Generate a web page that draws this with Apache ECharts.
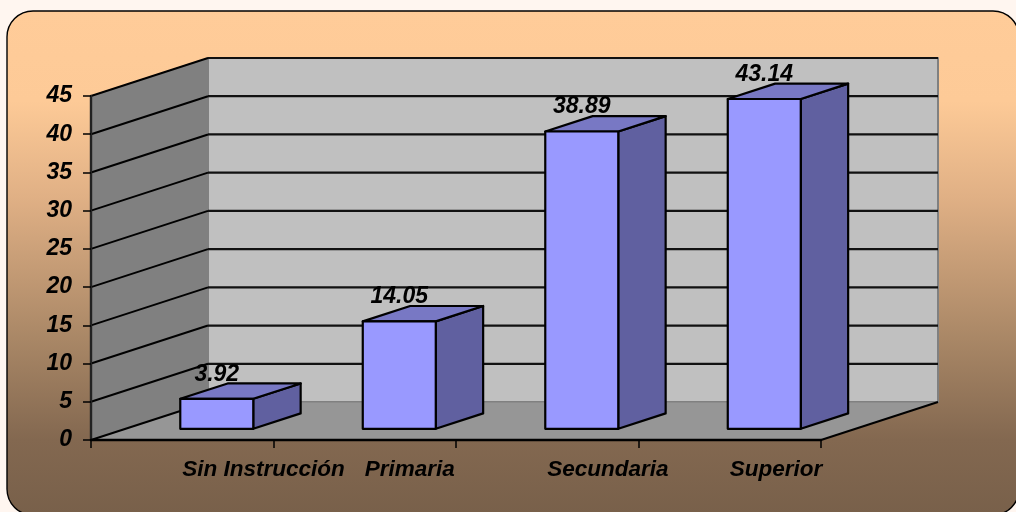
<!DOCTYPE html>
<html>
<head>
<meta charset="utf-8">
<style>
html, body { margin: 0; padding: 0; background: #fff6f0; overflow: hidden; }
#chart { width: 1016px; height: 512px; }
</style>
<script src="https://cdn.jsdelivr.net/npm/echarts@6/dist/echarts.min.js"></script>
</head>
<body>
<div id="chart"></div>
<script>
var categories = ['Sin Instrucción', 'Primaria', 'Secundaria', 'Superior'];
var values = [3.92, 14.05, 38.89, 43.14];
var yTicks = [0, 5, 10, 15, 20, 25, 30, 35, 40, 45];

var font = '"Liberation Sans", Arial, sans-serif';
var depthX = 117;  // shift of the back wall against the front plane
var depthY = -38;
var barStart = 0.295;  // bar front and back, as share of the depth
var barEnd = 0.70;

function shift(p, d) {
    return [p[0] + depthX * d, p[1] + depthY * d];
}

function poly(points, fill, stroke, width) {
    return {
        type: 'polygon',
        shape: { points: points },
        style: { fill: fill, stroke: stroke, lineWidth: width, lineJoin: 'round' }
    };
}

function line(a, b, color, width) {
    return {
        type: 'line',
        shape: { x1: a[0], y1: a[1], x2: b[0], y2: b[1] },
        style: { stroke: color, lineWidth: width }
    };
}

// back wall, side wall and floor
function renderWalls(params, api) {
    var r = params.coordSys;
    var fl = [r.x, r.y + r.height], fr = [r.x + r.width, r.y + r.height];
    var tl = [r.x, r.y], tr = [r.x + r.width, r.y];
    return {
        type: 'group',
        children: [
            poly([shift(tl, 1), shift(tr, 1), shift(fr, 1), shift(fl, 1)], '#c0c0c0', '#808080', 2),
            poly([tl, shift(tl, 1), shift(fl, 1), fl], '#808080', '#808080', 1),
            poly([fl, fr, shift(fr, 1), shift(fl, 1)], '#969696', '#808080', 1),
            line(fr, shift(fr, 1), '#000', 2)
        ]
    };
}

function renderGridline(params, api) {
    var v = api.value(0);
    var r = params.coordSys;
    var a = [r.x, api.coord([0, v])[1]];
    var b = shift(a, 1);
    var c = [b[0] + r.width, b[1]];
    var children = [line(a, b, '#000', 2)];
    if (v > 0) children.push(line(b, c, '#111', 2.2));
    return { type: 'group', children: children };
}

function renderBar(params, api) {
    var p = api.coord([api.value(0), api.value(1)]);
    var base = api.coord([api.value(0), 0]);
    var half = api.size([1, 0])[0] * 0.2;
    var tl = shift([p[0] - half, p[1]], barStart);
    var tr = shift([p[0] + half, p[1]], barStart);
    var bl = shift([base[0] - half, base[1]], barStart);
    var br = shift([base[0] + half, base[1]], barStart);
    var d = barEnd - barStart;
    var tlb = [tl[0] + depthX * d, tl[1] + depthY * d];
    var trb = [tr[0] + depthX * d, tr[1] + depthY * d];
    var brb = [br[0] + depthX * d, br[1] + depthY * d];
    return {
        type: 'group',
        children: [
            poly([tr, trb, brb, br], '#6060a0', '#000', 2.2),
            poly([tl, tlb, trb, tr], '#7878c4', '#000', 2.2),
            poly([tl, tr, br, bl], '#9999ff', '#000', 2.2),
            {
                type: 'text',
                style: {
                    x: (tl[0] + tr[0]) / 2,
                    y: tlb[1] - 9,
                    text: String(api.value(1)),
                    fill: '#000',
                    font: 'italic bold 23px ' + font,
                    align: 'center',
                    verticalAlign: 'middle'
                }
            }
        ]
    };
}

var myChart = echarts.init(document.getElementById('chart'), null, { renderer: 'canvas' });
var option = {
    animation: false,
    backgroundColor: '#fff6f0',
    graphic: {
        elements: [{
            type: 'rect',
            z: -10,
            silent: true,
            shape: { x: 7, y: 11, width: 1012, height: 504, r: 26 },
            style: {
                stroke: '#000',
                lineWidth: 1.4,
                fill: new echarts.graphic.LinearGradient(0, 0, 0, 1, [
                    { offset: 0, color: '#ffcc99' },
                    { offset: 0.18, color: '#fdca97' },
                    { offset: 0.37, color: '#e0b085' },
                    { offset: 0.65, color: '#a98766' },
                    { offset: 0.85, color: '#836850' },
                    { offset: 1, color: '#78604a' }
                ])
            }
        }]
    },
    grid: { left: 91, right: 195, top: 96, bottom: 72 },
    xAxis: {
        type: 'category',
        data: categories,
        z: 5,
        axisLine: { lineStyle: { color: '#000', width: 2.4 } },
        axisTick: { show: true, length: 8, lineStyle: { color: '#000', width: 1.5 } },
        axisLabel: {
            interval: 0,
            align: 'left',
            margin: 18,
            color: '#000',
            fontFamily: font,
            fontSize: 22.5,
            fontStyle: 'italic',
            fontWeight: 'bold'
        }
    },
    yAxis: {
        type: 'value',
        min: 0,
        max: 45,
        interval: 5,
        z: 5,
        splitLine: { show: false },
        axisLine: { show: true, lineStyle: { color: '#222', width: 2.4 } },
        axisTick: { show: true, length: 8, lineStyle: { color: '#000', width: 1.5 } },
        axisLabel: {
            margin: 19,
            color: '#000',
            fontFamily: font,
            fontSize: 23,
            fontStyle: 'italic',
            fontWeight: 'bold'
        }
    },
    series: [
        {
            name: 'walls',
            type: 'custom',
            z: 1,
            silent: true,
            renderItem: renderWalls,
            data: [[0]],
            encode: { x: -1, y: -1 }
        },
        {
            name: 'gridlines',
            type: 'custom',
            z: 2,
            silent: true,
            renderItem: renderGridline,
            data: yTicks.map(function (t) { return [t]; }),
            encode: { x: -1, y: 0 }
        },
        {
            name: 'bars',
            type: 'custom',
            z: 3,
            renderItem: renderBar,
            data: values.map(function (v, i) { return [i, v]; }),
            encode: { x: 0, y: 1 }
        }
    ]
};
myChart.setOption(option);
</script>
</body>
</html>
